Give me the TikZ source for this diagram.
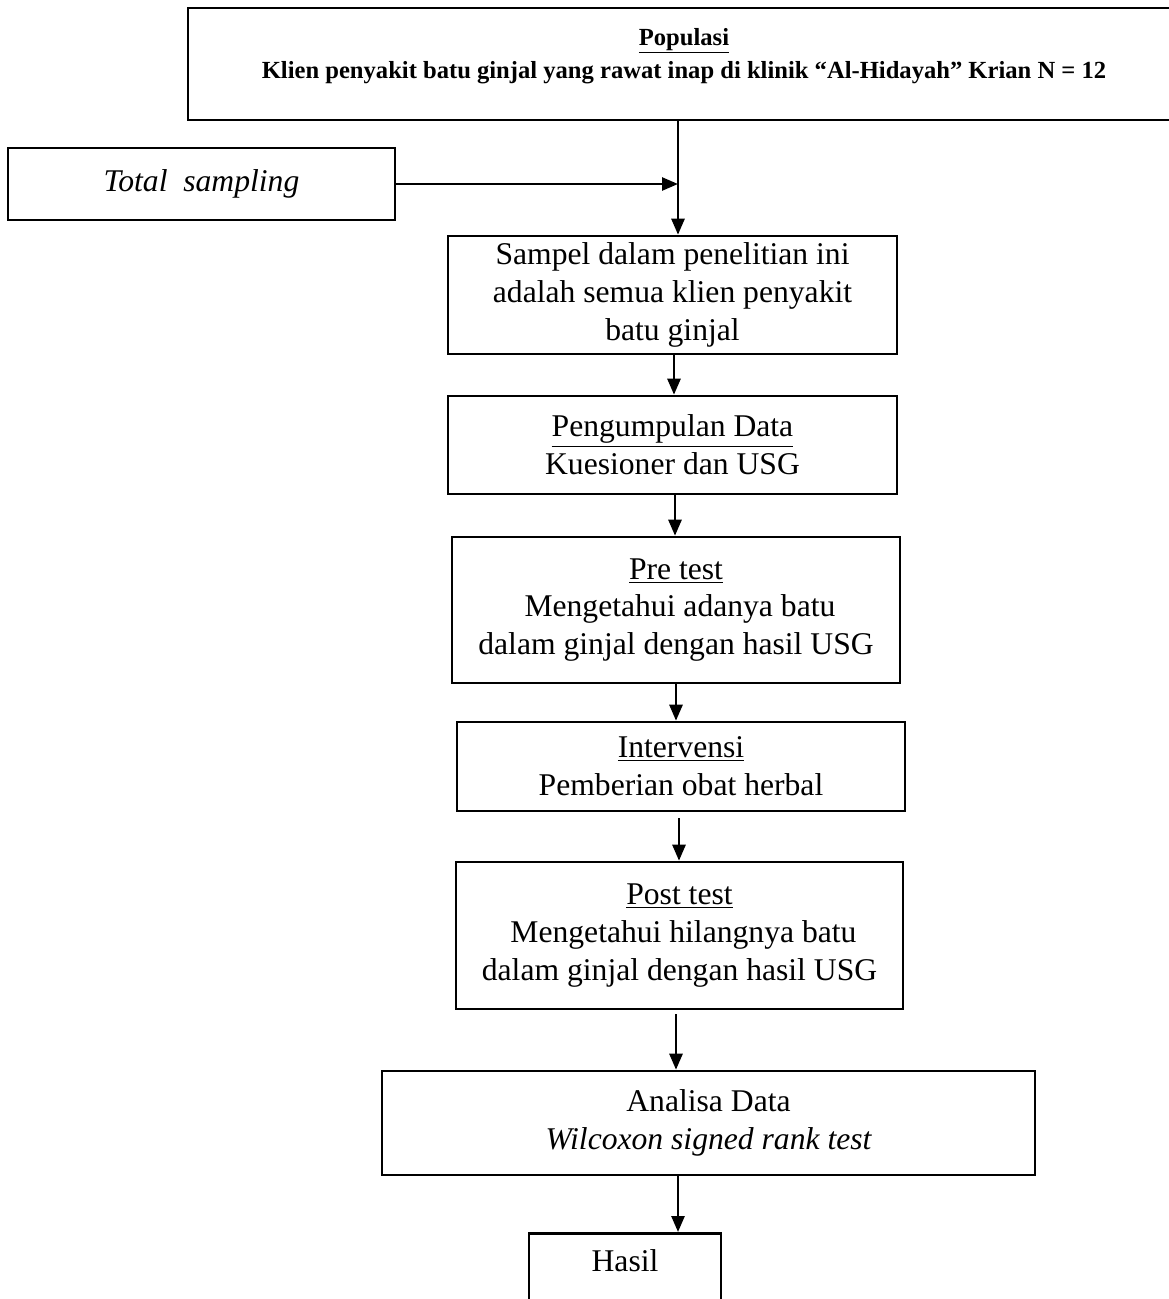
\documentclass[tikz,border=0pt]{standalone}
\usepackage{fontspec}
\setmainfont{Liberation Serif}
\usepackage{tikz}
\usetikzlibrary{positioning,calc,arrows.meta}

\tikzset{
    box/.style={draw, line width=1.5pt, align=center, inner sep=0pt, font=\fontsize{18}{21.5}\selectfont},
    arr/.style={line width=1.5pt, -{Triangle[length=0.32cm,width=0.26cm]}}
}

\begin{document}
\begin{tikzpicture}[x=0.02cm, y=-0.02cm]
    \useasboundingbox (0,0) rectangle (1169,1299);

    % Populasi
    \node[box, minimum width=19.84cm, minimum height=2.24cm, font=\bfseries\fontsize{14}{18.8}\selectfont] (pop) at (684,64)
        {\underline{Populasi}\\Klien penyakit batu ginjal yang rawat inap di klinik ``Al-Hidayah'' Krian N = 12\\[-0.22cm]\mbox{}};

    % Total sampling
    \node[box, minimum width=7.74cm, minimum height=1.44cm] (total) at (201.5,184) {\itshape Total\ \ sampling};

    % Sampel
    \node[box, minimum width=8.98cm, minimum height=2.36cm] (sampel) at (672.5,295)
        {Sampel dalam penelitian ini\\adalah semua klien penyakit\\batu ginjal};

    % Pengumpulan Data
    \node[box, minimum width=8.98cm, minimum height=1.96cm] (kumpul) at (672.5,445)
        {\underline{Pengumpulan Data}\\Kuesioner dan USG};

    % Pre test
    \node[box, minimum width=8.96cm, minimum height=2.92cm] (pre) at (676,610)
        {\underline{Pre test}\\\ Mengetahui adanya batu\\dalam ginjal dengan hasil USG};

    % Intervensi
    \node[box, minimum width=8.96cm, minimum height=1.78cm] (interv) at (681,766.5)
        {\underline{Intervensi}\\Pemberian obat herbal};

    % Post test
    \node[box, minimum width=8.94cm, minimum height=2.94cm] (post) at (679.5,935.5)
        {\underline{Post test}\\\ Mengetahui hilangnya batu\\dalam ginjal dengan hasil USG};

    % Analisa Data
    \node[box, minimum width=13.06cm, minimum height=2.08cm] (analisa) at (708.5,1123)
        {Analisa Data\\\itshape Wilcoxon signed rank test};

    % Hasil
    \node[box, anchor=north, minimum width=3.84cm, text height=0.76cm, text depth=1.3cm] (hasil) at (625,1232) {Hasil};

    % Arrows
    \coordinate (junc) at (678,184);
    \draw[line width=1.5pt] (pop.south -| junc) -- (junc);
    \draw[arr] (junc) -- (junc |- sampel.north);
    \draw[arr] (total.east) -- (junc);
    \draw[arr] ([xshift=0.03cm]sampel.south) -- ([xshift=0.03cm]sampel.south |- kumpul.north);
    \draw[arr] ([xshift=0.05cm]kumpul.south) -- ([xshift=0.05cm]kumpul.south |- pre.north);
    \draw[arr] (pre.south) -- (pre.south |- interv.north);
    \draw[arr, shorten <=0.12cm] ([xshift=-0.04cm]interv.south) -- ([xshift=-0.04cm]interv.south |- post.north);
    \draw[arr, shorten <=0.08cm] ([xshift=-0.07cm]post.south) -- ([xshift=-0.07cm]post.south |- analisa.north);
    \draw[arr] ([xshift=-0.61cm]analisa.south) -- ([xshift=-0.61cm]analisa.south |- hasil.north);
\end{tikzpicture}
\end{document}
